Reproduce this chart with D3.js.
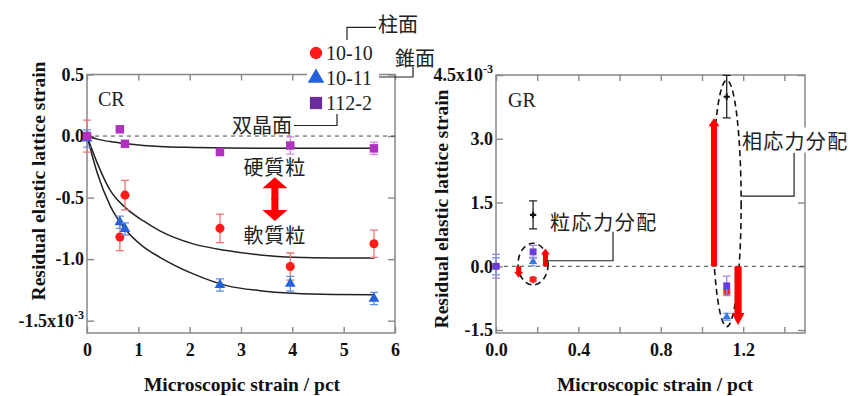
<!DOCTYPE html>
<html>
<head>
<meta charset="utf-8">
<script src="https://cdn.jsdelivr.net/npm/d3@7"></script>
<style>
  body { margin: 0; background: #fff; }
  svg { display: block; }
  .tk text { font-family: "Liberation Serif", serif; font-weight: bold; font-size: 18px; fill: #111; }
  .tk line { stroke: #888; stroke-width: 1.4; }
  .tk path { display: none; }
  .ttl { font-family: "Liberation Serif", serif; font-weight: bold; font-size: 19.5px; fill: #111; }
  .jp { font-family: "Noto Sans CJK JP", sans-serif; font-size: 20px; fill: #222; }
  .lg { font-family: "Liberation Serif", serif; font-size: 20px; fill: #222; }
</style>
</head>
<body>
<svg id="chart" width="850" height="396"></svg>
<script>
// CR (left) : strain in pct, residual strain x10^-3
const crStrain = [0, 0.64, 0.74, 2.59, 3.96, 5.59];
const cr1010 = [0, -0.82, -0.48, -0.75, -1.06, -0.875];
const cr1010Err = [0.13, 0.11, 0.12, 0.115, 0.11, 0.11];
const cr1011 = [-0.02, -0.70, -0.755, -1.21, -1.20, -1.32];
const cr1011Err = [0.07, 0.05, 0.05, 0.05, 0.06, 0.05];
const cr1122 = [0, 0.055, -0.063, -0.13, -0.077, -0.10];
const cr1122Err = [0.02, 0.015, 0.02, 0.025, 0.07, 0.05];

// fitted curves
const fitStrain = [0, 0.2, 0.45, 0.77, 1.1, 1.42, 2.07, 2.72, 3.37, 4.02, 4.8, 5.6];
const fit1010 = [0, -0.22, -0.44, -0.59, -0.69, -0.77, -0.876, -0.93, -0.966, -0.985, -0.99, -0.99];
const fit1011 = [0, -0.30, -0.565, -0.77, -0.90, -0.985, -1.12, -1.215, -1.256, -1.278, -1.288, -1.29];
const fit1122 = [0, -0.025, -0.045, -0.063, -0.076, -0.085, -0.093, -0.097, -0.099, -0.1, -0.1, -0.1];

// GR (right)
const grStrain = [0, 0.18, 1.12];
const gr1010 = [0, -0.31, -0.60];
const gr1010Err = [0.05, 0.04, 0.05];
const gr1011 = [0, 0.11, -1.19];
const gr1011Err = [0.2, 0.1, 0.08];
const gr1122 = [0, 0.34, -0.46];
const gr1122Err = [0.28, 0.15, 0.23];
const grPhaseStrain = [0.18, 1.12];
const grPhase = [1.21, 3.99];
const grPhaseErr = [0.33, 0.5];

// red arrows in GR: x position, tip value (all start at 0)
const grArrowX = [0.11, 0.24, 1.058, 1.175];
const grArrowTip = [-0.27, 0.42, 3.48, -1.38];

const crXTicks = [0, 1, 2, 3, 4, 5, 6];
const crYTicks = [-1.5, -1.0, -0.5, 0.0, 0.5];
const grXTicks = [0, 0.2, 0.4, 0.6, 0.8, 1.0, 1.2, 1.4];
const grXLabels = [0, 0.4, 0.8, 1.2];
const grYTicks = [-1.5, 0, 1.5, 3.0, 4.5];

const svg = d3.select("#chart");

const xCR = d3.scaleLinear().domain([0, 6]).range([87, 395]);
const yCR = d3.scaleLinear().domain([-1.6, 0.5]).range([333, 74.5]);
const xGR = d3.scaleLinear().domain([0, 1.5]).range([496, 805]);
const yGR = d3.scaleLinear().domain([-1.57, 4.5]).range([333, 75]);

function frame(x, y, xTicks, xFmt, yTicks, yExp) {
  let [x0, x1] = x.range(), [y0, y1] = y.range();
  let g = svg.append("g");
  g.append("g").attr("class", "tk").attr("transform", `translate(0,${y0})`)
    .call(d3.axisBottom(x).tickValues(xTicks).tickSize(-6).tickPadding(10).tickFormat(xFmt));
  g.append("g").attr("class", "tk").attr("transform", `translate(0,${y1})`)
    .call(d3.axisTop(x).tickValues(xTicks).tickSize(-6).tickFormat(""));
  let ya = g.append("g").attr("class", "tk").attr("transform", `translate(${x0},0)`)
    .call(d3.axisLeft(y).tickValues(yTicks).tickSize(-7).tickPadding(3).tickFormat(d => d.toFixed(1)));
  g.append("g").attr("class", "tk").attr("transform", `translate(${x1},0)`)
    .call(d3.axisRight(y).tickValues(yTicks).tickSize(-7).tickFormat(""));
  ya.selectAll(".tick").filter(d => d === yExp).select("text")
    .text(yExp.toFixed(1) + "x10")
    .append("tspan").attr("dy", -8).attr("font-size", 12).text("-3");
  g.append("rect").attr("x", x0).attr("y", y1).attr("width", x1 - x0).attr("height", y0 - y1)
    .attr("fill", "none").attr("stroke", "#888").attr("stroke-width", 1.5);
  g.append("line").attr("x1", x0).attr("x2", x1).attr("y1", y(0)).attr("y2", y(0))
    .attr("stroke", "#444").attr("stroke-dasharray", "4,4").attr("stroke-width", 1);
  return g;
}

function series(x, y, xs, vs, es, shape, size, fill, errColor) {
  let g = svg.append("g");
  xs.forEach((xv, i) => {
    let px = x(xv);
    if (es) {
      let t = y(vs[i] + es[i]), b = y(vs[i] - es[i]);
      g.append("path").attr("d", `M${px},${t}V${b}M${px - 4},${t}H${px + 4}M${px - 4},${b}H${px + 4}`)
        .attr("stroke", errColor).attr("stroke-width", 1.3).attr("fill", "none");
    }
    g.append("path").attr("d", d3.symbol(shape, size)())
      .attr("transform", `translate(${px},${y(vs[i])})`).attr("fill", fill);
  });
}

function vArrow(px, pyFrom, pyTo, w, hw, hl, color) {
  let s = pyTo < pyFrom ? 1 : -1;
  let yb = pyTo + s * hl;
  svg.append("path")
    .attr("d", `M${px - w},${pyFrom}V${yb}H${px - hw}L${px},${pyTo}L${px + hw},${yb}H${px + w}V${pyFrom}Z`)
    .attr("fill", color);
}

function callout(pts, label, tx, ty, anchor, bg) {
  svg.append("path").attr("d", d3.line()(pts)).attr("fill", "none").attr("stroke", "#222").attr("stroke-width", 1.2);
  let t = svg.append("text").attr("class", "jp").attr("x", tx).attr("y", ty)
    .attr("text-anchor", anchor).attr("dominant-baseline", "central").text(label);
  if (bg) {
    let b = t.node().getBBox();
    svg.insert("rect", () => t.node()).attr("x", b.x - 1).attr("y", b.y + 2)
      .attr("width", b.width + 2).attr("height", b.height - 4).attr("fill", "#fff");
  }
  return t;
}

// ---- left panel
frame(xCR, yCR, crXTicks, d3.format("d"), crYTicks, -1.5);

let fitLine = d3.line().x((d, i) => xCR(fitStrain[i])).y(d => yCR(d)).curve(d3.curveMonotoneX);
[fit1122, fit1010, fit1011].forEach(f => {
  svg.append("path").attr("d", fitLine(f)).attr("fill", "none").attr("stroke", "#222").attr("stroke-width", 1.5);
});

series(xCR, yCR, crStrain, cr1010, cr1010Err, d3.symbolCircle, 64, "#ff1a1a", "#f07474");
series(xCR, yCR, crStrain, cr1011, cr1011Err, d3.symbolTriangle, 50, "#2462d8", "#5e8ee8");
series(xCR, yCR, crStrain, cr1122, cr1122Err, d3.symbolSquare, 72, "#b032c0", "#d488e0");

svg.append("text").attr("class", "lg").attr("font-size", 21).attr("x", xCR(0) + 11).attr("y", yCR(0.5) + 24)
  .attr("dominant-baseline", "central").text("CR");

// hard / soft grain double arrow
let ax = xCR(3.66), aTop = yCR(-0.335), aBot = yCR(-0.69), aMid = (aTop + aBot) / 2;
vArrow(ax, aMid + 1, aTop, 3.5, 12.5, 11, "#ff0000");
vArrow(ax, aMid - 1, aBot, 3.5, 12.5, 11, "#ff0000");
svg.append("text").attr("class", "jp").attr("x", ax).attr("y", yCR(-0.25)).attr("text-anchor", "middle")
  .attr("dominant-baseline", "central").attr("letter-spacing", 1).text("硬質粒");
svg.append("text").attr("class", "jp").attr("x", ax).attr("y", yCR(-0.8)).attr("text-anchor", "middle")
  .attr("dominant-baseline", "central").attr("letter-spacing", 1).text("軟質粒");

// ---- right panel
frame(xGR, yGR, grXTicks, d => grXLabels.some(v => Math.abs(v - d) < 1e-6) ? d.toFixed(1) : "", grYTicks, 4.5);

// dashed ellipses
[[0.18, 0.05, 0.073, 0.49], [1.12, 1.48, 0.07, 2.9]].forEach(([cx, cy, rx, ry]) => {
  svg.append("ellipse").attr("cx", xGR(cx)).attr("cy", yGR(cy))
    .attr("rx", xGR(rx) - xGR(0)).attr("ry", yGR(0) - yGR(ry))
    .attr("fill", "none").attr("stroke", "#111").attr("stroke-width", 1.6).attr("stroke-dasharray", "6,4");
});

grArrowX.forEach((xv, i) => {
  let big = Math.abs(grArrowTip[i]) > 1;
  let down = grArrowTip[i] < 0;
  vArrow(xGR(xv), yGR(0), yGR(grArrowTip[i]), big ? (down ? 3.6 : 3) : 2.5, big ? (down ? 6.5 : 5.5) : 4.5, big ? (down ? 12 : 8) : 6, "#ff0000");
});

series(xGR, yGR, grStrain, gr1010, gr1010Err, d3.symbolCircle, 38, "#ff2020", "#f07474");
series(xGR, yGR, grStrain, gr1011, gr1011Err, d3.symbolTriangle, 30, "#3a78e8", "#7aa2ee");
series(xGR, yGR, grStrain, gr1122, gr1122Err, d3.symbolSquare, 48, "#6a3ce0", "#a285ea");
series(xGR, yGR, grPhaseStrain, grPhase, grPhaseErr, d3.symbolCross, 22, "#111", "#222");

svg.append("text").attr("class", "lg").attr("font-size", 21).attr("x", xGR(0) + 12).attr("y", yGR(4.5) + 25)
  .attr("dominant-baseline", "central").text("GR");

callout([[xGR(0.24), yGR(0.13)], [xGR(0.568), yGR(0.13)], [xGR(0.568), yGR(0.81)]],
  "粒応力分配", xGR(0.262), yGR(1.05), "start", false).attr("letter-spacing", 1.6);
callout([[xGR(1.192), yGR(1.65)], [xGR(1.447), yGR(1.65)], [xGR(1.447), yGR(2.67)]],
  "相応力分配", xGR(1.194), yGR(2.97), "start", true).attr("letter-spacing", 1.3);

// ---- titles
svg.append("text").attr("class", "ttl").attr("text-anchor", "middle")
  .attr("transform", "translate(38,181) rotate(-90)").attr("dominant-baseline", "central")
  .text("Residual elastic lattice strain");
svg.append("text").attr("class", "ttl").attr("text-anchor", "middle")
  .attr("transform", "translate(441,209) rotate(-90)").attr("dominant-baseline", "central")
  .text("Residual elastic lattice strain");
svg.append("text").attr("class", "ttl").attr("text-anchor", "middle").attr("x", 242).attr("y", 384)
  .attr("dominant-baseline", "central").text("Microscopic strain / pct");
svg.append("text").attr("class", "ttl").attr("text-anchor", "middle").attr("x", 655).attr("y", 384)
  .attr("dominant-baseline", "central").text("Microscopic strain / pct");

// ---- legend with plane callouts
const legendNames = ["10-10", "10-11", "112-2"];
const legendShapes = [d3.symbolCircle, d3.symbolTriangle, d3.symbolSquare];
const legendColors = ["#ff1a1a", "#2462d8", "#6b2d9e"];
svg.append("rect").attr("x", 307).attr("y", 41).attr("width", 72).attr("height", 72).attr("fill", "#fff");
legendNames.forEach((n, i) => {
  let ly = 53 + i * 25;
  svg.append("path").attr("d", d3.symbol(legendShapes[i], i === 2 ? 150 : 120)())
    .attr("transform", `translate(316,${ly})`).attr("fill", legendColors[i]);
  svg.append("text").attr("class", "lg").attr("x", 326).attr("y", ly).attr("dominant-baseline", "central").text(n);
});
callout([[347, 40], [347, 27.3], [376, 27.3]], "柱面", 378, 23, "start", false);
callout([[379, 77], [413, 77], [413, 67]], "錐面", 415, 57, "middle", false);
callout([[294, 125.5], [337, 125.5], [337, 114]], "双晶面", 292, 124, "end", false);
</script>
</body>
</html>
